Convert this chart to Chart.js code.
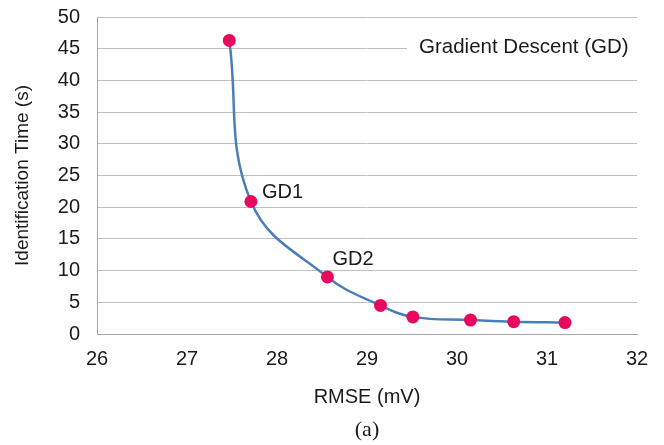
<!DOCTYPE html>
<html lang="en">
<head>
    <meta charset="UTF-8">
    <title>Identification Time vs RMSE</title>
    <script src="https://cdn.jsdelivr.net/npm/chart.js"></script>
    <style>
        html, body { margin: 0; padding: 0; background: #fff; }
        #wrap { width: 664px; height: 445px; }
    </style>
</head>
<body>

<div id="wrap">
    <canvas id="myChart" width="664" height="445"></canvas>
</div>

<script>
// datos
const rmse = [27.47, 27.71, 28.56, 29.15, 29.51, 30.15, 30.63, 31.2];
const tiempo = [46.3, 20.9, 9.0, 4.5, 2.7, 2.2, 1.95, 1.8];
const etiquetas = ['', 'GD1', 'GD2', '', '', '', '', ''];
const xTicks = [26, 27, 28, 29, 30, 31, 32];
const yTicks = [0, 5, 10, 15, 20, 25, 30, 35, 40, 45, 50];

const puntos = rmse.map((x, i) => ({ x: x, y: tiempo[i] }));

// desplazamiento de cada etiqueta respecto a su punto (px)
const despl = { GD1: [11, -9], GD2: [5, -17] };

// textos extra: etiquetas GD1/GD2, leyenda y "(a)"
const textosPlugin = {
    id: 'textos',
    afterDraw(chart) {
        const ctx = chart.ctx;
        const xs = chart.scales.x;
        const ys = chart.scales.y;
        ctx.save();

        // caja de leyenda
        ctx.fillStyle = '#fff';
        ctx.fillRect(407, 34, 240, 27);
        ctx.fillStyle = '#1a1a1a';
        ctx.font = '20.5px "Liberation Sans", Arial, sans-serif';
        ctx.textBaseline = 'middle';
        ctx.textAlign = 'left';
        ctx.fillText('Gradient Descent (GD)', 419, 47);

        // etiquetas de puntos
        ctx.font = '20px "Liberation Sans", Arial, sans-serif';
        etiquetas.forEach((t, i) => {
            if (!t) return;
            const px = xs.getPixelForValue(rmse[i]);
            const py = ys.getPixelForValue(tiempo[i]);
            ctx.fillText(t, px + despl[t][0], py + despl[t][1]);
        });

        // (a)
        ctx.textAlign = 'center';
        ctx.font = '22px "Liberation Serif", "Times New Roman", serif';
        ctx.fillText('(a)', 367, 430);
        ctx.restore();
    }
};

const ctx = document.getElementById('myChart').getContext('2d');
const myChart = new Chart(ctx, {
    type: 'scatter',
    data: {
        datasets: [{
            data: puntos,
            showLine: true,
            borderColor: '#4a7ebb',
            borderWidth: 2.5,
            tension: 0.4,
            pointRadius: 6.5,
            pointHoverRadius: 6.5,
            pointBackgroundColor: '#e8085e',
            pointBorderColor: '#e8085e',
            pointBorderWidth: 0
        }]
    },
    options: {
        responsive: false,
        animation: false,
        layout: { padding: { top: 17, right: 27, left: 0, bottom: 0 } },
        plugins: {
            legend: { display: false },
            tooltip: { enabled: false }
        },
        scales: {
            x: {
                type: 'linear',
                min: 26,
                max: 32,
                afterBuildTicks: s => { s.ticks = xTicks.map(v => ({ value: v })); },
                afterFit: s => { s.height = 111; },
                grid: { display: false, drawTicks: false },
                border: { display: true, color: '#a6a6a6', width: 1 },
                ticks: {
                    padding: 13,
                    color: '#1a1a1a',
                    font: { family: '"Liberation Sans", Arial, sans-serif', size: 20 }
                },
                title: {
                    display: true,
                    text: 'RMSE (mV)',
                    color: '#1a1a1a',
                    font: { family: '"Liberation Sans", Arial, sans-serif', size: 20 },
                    padding: { top: 0, bottom: 36 }
                }
            },
            y: {
                min: 0,
                max: 50,
                afterBuildTicks: s => { s.ticks = yTicks.map(v => ({ value: v })); },
                afterFit: s => {
                    s.width = 97;
                    s.paddingTop = 0;
                    s.paddingBottom = 0;
                },
                grid: { color: '#c0c0c0', lineWidth: 1, drawTicks: false },
                border: { display: true, color: '#a6a6a6', width: 1 },
                ticks: {
                    padding: 17,
                    color: '#1a1a1a',
                    font: { family: '"Liberation Sans", Arial, sans-serif', size: 20 }
                },
                title: {
                    display: true,
                    text: 'Identification Time (s)',
                    color: '#1a1a1a',
                    font: { family: '"Liberation Sans", Arial, sans-serif', size: 19 },
                    padding: { top: 11, bottom: 0 }
                }
            }
        }
    },
    plugins: [textosPlugin]
});
</script>

</body>
</html>
